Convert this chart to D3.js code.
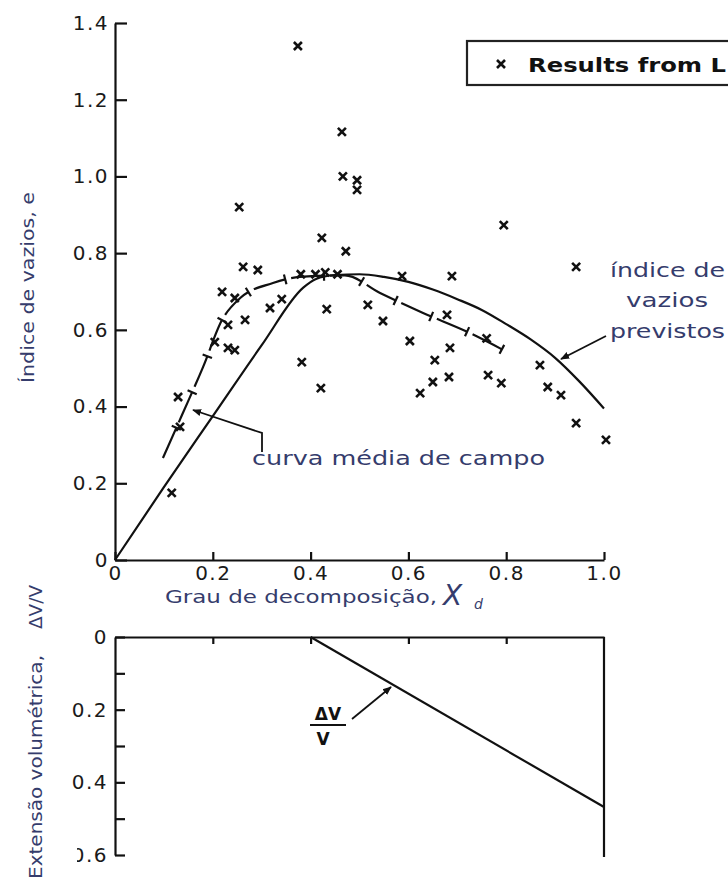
<!DOCTYPE html>
<html>
<head>
<meta charset="utf-8">
<script src="https://cdn.jsdelivr.net/npm/d3@7"></script>
<style>
    body { margin: 0; background: #fff; }
    svg { display: block; }
    .tick text { font-family: "DejaVu Sans", sans-serif; font-size: 20px; fill: #1a1a1a; letter-spacing: 1.5px; }
    .tick line, .domain { stroke: #111; stroke-width: 2.2; }
    .lbl { font-family: "DejaVu Sans", sans-serif; fill: #353c6c; }
</style>
</head>
<body>
<svg></svg>
<script>
// tick values
const xTicks = [0, 0.2, 0.4, 0.6, 0.8, 1.0];
const eTicks = [0, 0.2, 0.4, 0.6, 0.8, 1.0, 1.2, 1.4];
const dvTicks = [0, 0.1, 0.2, 0.3, 0.4, 0.5, 0.6];
const dvLabelled = [0, 0.2, 0.4, 0.6];

// "Results from L..." scatter (degree of decomposition, void ratio)
const leeX = [0.374, 0.464, 0.466, 0.495, 0.495, 0.254, 0.423, 0.472, 0.795, 0.943,
    0.262, 0.292, 0.587, 0.689, 0.38, 0.41, 0.43, 0.455, 0.219, 0.245,
    0.317, 0.341, 0.231, 0.266, 0.204, 0.231, 0.245, 0.129, 0.133, 0.116,
    0.433, 0.382, 0.421, 0.517, 0.548, 0.603, 0.679, 0.685, 0.654, 0.650,
    0.683, 0.624, 0.76, 0.763, 0.79, 0.869, 0.885, 0.912, 0.943, 1.004];
const leeE = [1.34, 1.116, 1.0, 0.99, 0.965, 0.92, 0.84, 0.805, 0.873, 0.764,
    0.764, 0.756, 0.74, 0.74, 0.745, 0.745, 0.75, 0.745, 0.699, 0.683,
    0.657, 0.68, 0.613, 0.626, 0.568, 0.553, 0.547, 0.425, 0.347, 0.175,
    0.654, 0.516, 0.448, 0.665, 0.623, 0.571, 0.639, 0.553, 0.521, 0.464,
    0.477, 0.435, 0.578, 0.482, 0.461, 0.508, 0.451, 0.43, 0.357, 0.313];

// predicted void ratio (solid curve)
const predX = [0, 0.1, 0.2, 0.3, 0.385, 0.41, 0.45, 0.5, 0.55, 0.6, 0.65, 0.7, 0.75, 0.8, 0.85, 0.9, 0.95, 1.0];
const predE = [0, 0.19, 0.375, 0.56, 0.71, 0.732, 0.743, 0.745, 0.738, 0.725, 0.705, 0.68, 0.652, 0.615, 0.575, 0.527, 0.465, 0.395];

// field mean curve (dashed)
const fieldX = [0.098, 0.137, 0.18, 0.219, 0.256, 0.323, 0.378, 0.47, 0.542, 0.63, 0.722, 0.802];
const fieldE = [0.266, 0.378, 0.503, 0.626, 0.683, 0.722, 0.738, 0.742, 0.696, 0.644, 0.594, 0.542];

// volumetric strain
const dvX = [0.4, 1.0];
const dvV = [0, 0.468];

window.onload = function () {
    let svg = d3.select("svg").attr("width", 728).attr("height", 879);

    let x = d3.scaleLinear().domain([0, 1]).range([115, 604]);
    let yE = d3.scaleLinear().domain([0, 1.4]).range([560, 23]);
    let yV = d3.scaleLinear().domain([0, 0.6]).range([637, 855]);

    let fmt = d => d === 0 ? "0" : d.toFixed(1);

    // arrow head
    svg.append("defs").append("marker")
        .attr("id", "arr").attr("viewBox", "0 0 10 10").attr("refX", 9).attr("refY", 5)
        .attr("markerWidth", 9).attr("markerHeight", 9).attr("markerUnits", "userSpaceOnUse")
        .attr("orient", "auto")
        .append("path").attr("d", "M0,1L10,5L0,9Z").attr("fill", "#111");
    // left edge of the lower "0.6" label is cut off in the source
    svg.select("defs").append("clipPath").attr("id", "cut")
        .append("rect").attr("x", -38).attr("y", 840).attr("width", 600).attr("height", 40);
    svg.select("defs").append("clipPath").attr("id", "keep")
        .append("rect").attr("x", -115).attr("y", 600).attr("width", 700).attr("height", 240);

    // ---- top panel axes
    svg.append("g").attr("transform", "translate(0,560)")
        .call(d3.axisBottom(x).tickValues(xTicks).tickSizeInner(-8).tickSizeOuter(0).tickPadding(6).tickFormat(fmt));
    svg.append("g").attr("transform", "translate(115,0)")
        .call(d3.axisLeft(yE).tickValues(eTicks).tickSizeInner(-12).tickSizeOuter(0).tickPadding(6).tickFormat(fmt));

    // predicted curve
    let line = d3.line().x(d => x(d[0])).curve(d3.curveMonotoneX);
    svg.append("path")
        .attr("d", line.y(d => yE(d[1]))(predX.map((v, i) => [v, predE[i]])))
        .attr("fill", "none").attr("stroke", "#111").attr("stroke-width", 2.2);

    // field mean curve, dashed with end caps
    let field = svg.append("path")
        .attr("d", line.y(d => yE(d[1]))(fieldX.map((v, i) => [v, fieldE[i]])))
        .attr("fill", "none").attr("stroke", "#111").attr("stroke-width", 2.2)
        .attr("stroke-dasharray", "33,6");
    let node = field.node();
    let total = node.getTotalLength();
    for (let s = 33; s < total; s += 39) {
        let p = node.getPointAtLength(s), q = node.getPointAtLength(s - 2);
        let dx = p.x - q.x, dy = p.y - q.y, len = Math.hypot(dx, dy);
        let nx = -dy / len, ny = dx / len;
        svg.append("line")
            .attr("x1", p.x - nx * 5).attr("y1", p.y - ny * 5)
            .attr("x2", p.x + nx * 5).attr("y2", p.y + ny * 5)
            .attr("stroke", "#111").attr("stroke-width", 2.2);
    }

    // scatter markers
    svg.append("g").selectAll("path").data(leeX.map((v, i) => [v, leeE[i]])).join("path")
        .attr("transform", d => `translate(${x(d[0])},${yE(d[1])})`)
        .attr("d", "M-4,-4L4,4M-4,4L4,-4")
        .attr("stroke", "#111").attr("stroke-width", 2.6);

    // legend
    svg.append("rect").attr("x", 467).attr("y", 41).attr("width", 300).attr("height", 44)
        .attr("fill", "none").attr("stroke", "#222").attr("stroke-width", 2.2);
    svg.append("path").attr("transform", "translate(501,64)").attr("d", "M-4,-4L4,4M-4,4L4,-4")
        .attr("stroke", "#111").attr("stroke-width", 2.6);
    svg.append("text").attr("x", 528).attr("y", 72)
        .attr("font-family", "DejaVu Sans, sans-serif").attr("font-size", 20).attr("font-weight", "bold")
        .attr("fill", "#111").attr("textLength", 198).attr("lengthAdjust", "spacingAndGlyphs")
        .text("Results from L");

    // annotations
    let ann = (t, px, py, w, fs) => svg.append("text").attr("class", "lbl")
        .attr("x", px).attr("y", py).attr("font-size", fs)
        .attr("textLength", w).attr("lengthAdjust", "spacingAndGlyphs").text(t);
    ann("índice de", 610, 277, 115, 19);
    ann("vazios", 626, 307, 82, 19);
    ann("previstos", 610, 338, 115, 19);
    ann("curva média de campo", 252, 465, 293, 19);
    svg.append("line").attr("x1", 606).attr("y1", 336).attr("x2", 561).attr("y2", 359)
        .attr("stroke", "#111").attr("stroke-width", 1.8).attr("marker-end", "url(#arr)");
    svg.append("path").attr("d", "M262,452L262,433L193,410")
        .attr("fill", "none").attr("stroke", "#111").attr("stroke-width", 1.8).attr("marker-end", "url(#arr)");

    // axis titles
    ann("Grau de decomposição,", 165, 603, 272, 18);
    svg.append("text").attr("class", "lbl").attr("x", 443).attr("y", 605)
        .attr("font-size", 28).attr("font-style", "italic").text("X");
    svg.append("text").attr("class", "lbl").attr("x", 474).attr("y", 609)
        .attr("font-size", 14).attr("font-style", "italic").text("d");
    svg.append("text").attr("class", "lbl").attr("transform", "translate(34,383) rotate(-90)")
        .attr("font-size", 17).attr("textLength", 191).attr("lengthAdjust", "spacingAndGlyphs")
        .text("Índice de vazios, e");
    svg.append("text").attr("class", "lbl").attr("transform", "translate(42,879) rotate(-90)")
        .attr("font-size", 17).attr("textLength", 224).attr("lengthAdjust", "spacingAndGlyphs")
        .text("Extensão volumétrica,");
    svg.append("text").attr("class", "lbl").attr("transform", "translate(42,629) rotate(-90)")
        .attr("font-size", 17).attr("textLength", 44).attr("lengthAdjust", "spacingAndGlyphs")
        .text("ΔV/V");

    // ---- bottom panel (drawn twice with clips so only the last label is trimmed)
    let dvAxis = d3.axisLeft(yV).tickValues(dvTicks).tickSizeInner(-10).tickSizeOuter(0).tickPadding(7)
        .tickFormat(d => dvLabelled.includes(d) ? fmt(d) : "");
    svg.append("g").attr("transform", "translate(115,0)").attr("clip-path", "url(#keep)").call(dvAxis);
    svg.append("g").attr("transform", "translate(115,0)").attr("clip-path", "url(#cut)").call(dvAxis);
    svg.append("g").attr("transform", "translate(0,637)")
        .call(d3.axisTop(x).tickValues([0.2, 0.4, 0.6, 0.8]).tickSizeInner(-7).tickSizeOuter(0).tickFormat(""));
    svg.append("line").attr("x1", x(1)).attr("x2", x(1)).attr("y1", 637).attr("y2", 857)
        .attr("stroke", "#111").attr("stroke-width", 2.2);
    svg.append("path")
        .attr("d", d3.line().x(d => x(d[0])).y(d => yV(d[1]))(dvX.map((v, i) => [v, dvV[i]])))
        .attr("fill", "none").attr("stroke", "#111").attr("stroke-width", 2.2);

    // ΔV/V fraction label
    svg.append("text").attr("x", 328).attr("y", 720).attr("text-anchor", "middle")
        .attr("font-family", "DejaVu Sans, sans-serif").attr("font-weight", "bold").attr("font-size", 17)
        .attr("fill", "#111").text("ΔV");
    svg.append("line").attr("x1", 310).attr("x2", 346).attr("y1", 725).attr("y2", 725)
        .attr("stroke", "#111").attr("stroke-width", 2);
    svg.append("text").attr("x", 323).attr("y", 745).attr("text-anchor", "middle")
        .attr("font-family", "DejaVu Sans, sans-serif").attr("font-weight", "bold").attr("font-size", 17)
        .attr("fill", "#111").text("V");
    svg.append("line").attr("x1", 352).attr("y1", 719).attr("x2", 391).attr("y2", 687)
        .attr("stroke", "#111").attr("stroke-width", 1.8).attr("marker-end", "url(#arr)");
}
</script>
</body>
</html>
